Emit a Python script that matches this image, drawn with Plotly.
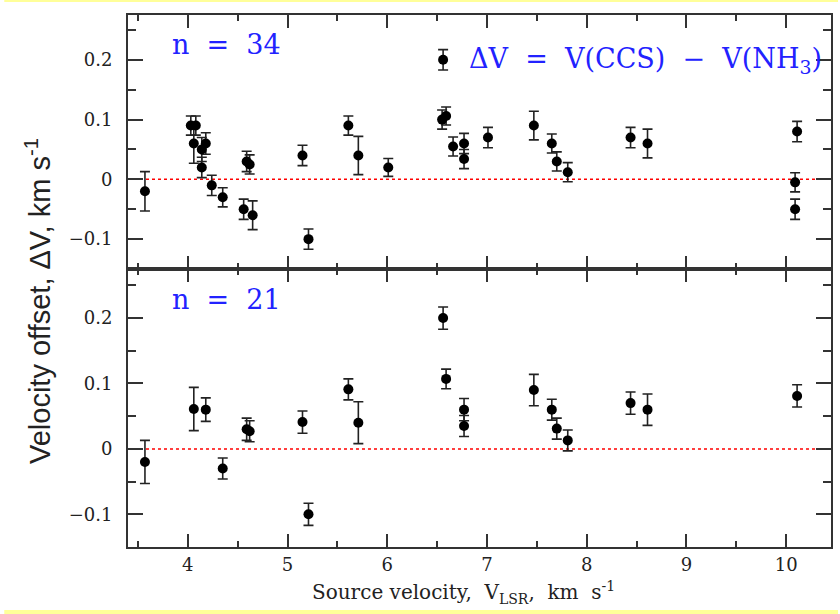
import plotly.graph_objects as go

# ---- data: top panel (all sources, n = 34) ----
vlsr_all = [3.57, 4.03, 4.08, 4.06, 4.14, 4.18, 4.14, 4.24, 4.35, 4.59, 4.62, 4.56, 4.65,
            5.15, 5.21, 5.61, 5.71, 6.01, 6.56, 6.55, 6.59, 6.66, 6.77, 6.77, 7.01,
            7.47, 7.65, 7.70, 7.81, 8.44, 8.61, 10.11, 10.09, 10.09]
dv_all = [-0.020, 0.090, 0.090, 0.060, 0.050, 0.060, 0.020, -0.010, -0.030, 0.030, 0.025, -0.050, -0.060,
          0.040, -0.100, 0.090, 0.040, 0.020, 0.200, 0.100, 0.106, 0.055, 0.060, 0.034, 0.070,
          0.090, 0.060, 0.030, 0.012, 0.070, 0.060, 0.080, -0.005, -0.050]
err_all = [0.033, 0.016, 0.016, 0.033, 0.020, 0.018, 0.017, 0.017, 0.016, 0.017, 0.016, 0.017, 0.024,
           0.017, 0.017, 0.016, 0.032, 0.015, 0.017, 0.016, 0.015, 0.016, 0.017, 0.016, 0.017,
           0.024, 0.016, 0.016, 0.016, 0.017, 0.024, 0.017, 0.016, 0.017]

# ---- data: bottom panel (subset, n = 21) ----
vlsr_sub = [3.57, 4.06, 4.18, 4.35, 4.59, 4.62, 5.15, 5.21, 5.61, 5.71,
            6.56, 6.59, 6.77, 6.77, 7.47, 7.65, 7.70, 7.81, 8.44, 8.61, 10.11]
dv_sub = [-0.020, 0.061, 0.060, -0.030, 0.030, 0.027, 0.041, -0.100, 0.091, 0.040,
          0.200, 0.107, 0.060, 0.035, 0.090, 0.060, 0.031, 0.013, 0.070, 0.060, 0.081]
err_sub = [0.033, 0.033, 0.018, 0.016, 0.017, 0.016, 0.017, 0.017, 0.016, 0.032,
           0.017, 0.015, 0.017, 0.016, 0.024, 0.016, 0.016, 0.016, 0.017, 0.024, 0.017]

x_tickvals = [4, 5, 6, 7, 8, 9, 10]
x_ticktext = ["4", "5", "6", "7", "8", "9", "10"]
y_tickvals = [-0.1, 0, 0.1, 0.2]
y_ticktext = ["\u22120.1", "0", "0.1", "0.2"]

SERIF = "DejaVu Serif"
BLUE = "#2222ff"
AX = "#333333"
NB = "\u00a0"

fig = go.Figure()
fig.add_trace(go.Scatter(
    x=vlsr_all, y=dv_all, mode="markers", xaxis="x", yaxis="y",
    marker=dict(size=10, color="black"),
    error_y=dict(type="data", array=err_all, color="#222222", thickness=1.6, width=5),
    showlegend=False))
fig.add_trace(go.Scatter(
    x=vlsr_sub, y=dv_sub, mode="markers", xaxis="x2", yaxis="y2",
    marker=dict(size=10, color="black"),
    error_y=dict(type="data", array=err_sub, color="#222222", thickness=1.6, width=5),
    showlegend=False))

SPLIT = 0.5225
xcommon = dict(range=[3.4, 10.45], tickvals=x_tickvals, ticktext=x_ticktext,
               ticks="inside", ticklen=13, tickwidth=2, tickcolor=AX,
               minor=dict(dtick=0.5, tick0=0, ticks="inside", ticklen=6, tickwidth=1.5, tickcolor=AX),
               showline=True, linecolor=AX, linewidth=2, mirror="allticks",
               showgrid=False, zeroline=False,
               tickfont=dict(family=SERIF, size=18, color="#222"), ticklabelstandoff=0)
ycommon = dict(range=[-0.15, 0.275], tickvals=y_tickvals, ticktext=y_ticktext,
               ticks="inside", ticklen=15, tickwidth=2, tickcolor=AX,
               minor=dict(dtick=0.05, tick0=0, ticks="inside", ticklen=8, tickwidth=1.5, tickcolor=AX),
               showline=True, linecolor=AX, linewidth=2, mirror="allticks",
               showgrid=False, zeroline=False,
               tickfont=dict(family=SERIF, size=18, color="#222"), ticklabelstandoff=10)

fig.update_layout(
    width=840, height=614,
    margin=dict(l=128, r=7, t=15, b=67),
    paper_bgcolor="white", plot_bgcolor="white",
    xaxis=dict(**xcommon, anchor="y", showticklabels=False, matches="x2"),
    yaxis=dict(**ycommon, domain=[SPLIT, 1], anchor="x"),
    xaxis2=dict(**xcommon, anchor="y2"),
    yaxis2=dict(**ycommon, domain=[0, SPLIT], anchor="x2"),
)

# zero lines
for xr, yr in [("x domain", "y"), ("x2 domain", "y2")]:
    fig.add_shape(type="line", xref=xr, yref=yr, x0=0, x1=1, y0=0, y1=0,
                  line=dict(color="red", width=1.5, dash="dot"), layer="below")

# annotations
gap = NB * 2
fig.add_annotation(text="n" + gap + "=" + gap + "34", xref="x domain", yref="y domain", x=0.06, y=0.885,
                   xanchor="left", yanchor="middle", showarrow=False,
                   font=dict(family=SERIF, size=27, color=BLUE))
fig.add_annotation(text="\u0394V" + gap + "=" + gap + "V(CCS)" + gap + "\u2212" + gap + "V(NH<sub>3</sub>)",
                   xref="x domain", yref="y domain",
                   x=0.99, y=0.82, xanchor="right", yanchor="middle", showarrow=False,
                   font=dict(family=SERIF, size=27, color=BLUE))
fig.add_annotation(text="n" + gap + "=" + gap + "21", xref="x2 domain", yref="y2 domain", x=0.06, y=0.892,
                   xanchor="left", yanchor="middle", showarrow=False,
                   font=dict(family=SERIF, size=27, color=BLUE))

# axis titles
fig.add_annotation(text="Velocity offset, \u0394V, km s<sup>-1</sup>", xref="paper", yref="paper",
                   x=-0.128, y=0.4624, textangle=-90, showarrow=False,
                   xanchor="center", yanchor="middle",
                   font=dict(family="Liberation Sans Narrow, Liberation Sans", size=29, color="#222"))
fig.add_annotation(text="Source" + NB + "velocity," + NB * 2 + "V<sub>LSR</sub>," + NB * 2 + "km" + NB * 2 + "s<sup>-1</sup>",
                   xref="paper", yref="paper",
                   x=0.4766, y=-0.0846, showarrow=False, xanchor="center", yanchor="middle",
                   font=dict(family=SERIF, size=20, color="#222"))

# pale yellow frame strips
fig.add_shape(type="rect", xref="paper", yref="paper", x0=-0.176, x1=1.01,
              y0=(547 - 2) / 532, y1=547 / 532, line=dict(width=0), fillcolor="#ffff99")
fig.add_shape(type="rect", xref="paper", yref="paper", x0=-0.176, x1=1.01,
              y0=(547 - 614) / 532, y1=(547 - 610) / 532, line=dict(width=0), fillcolor="#ffff99")

fig.write_html("out.html")
